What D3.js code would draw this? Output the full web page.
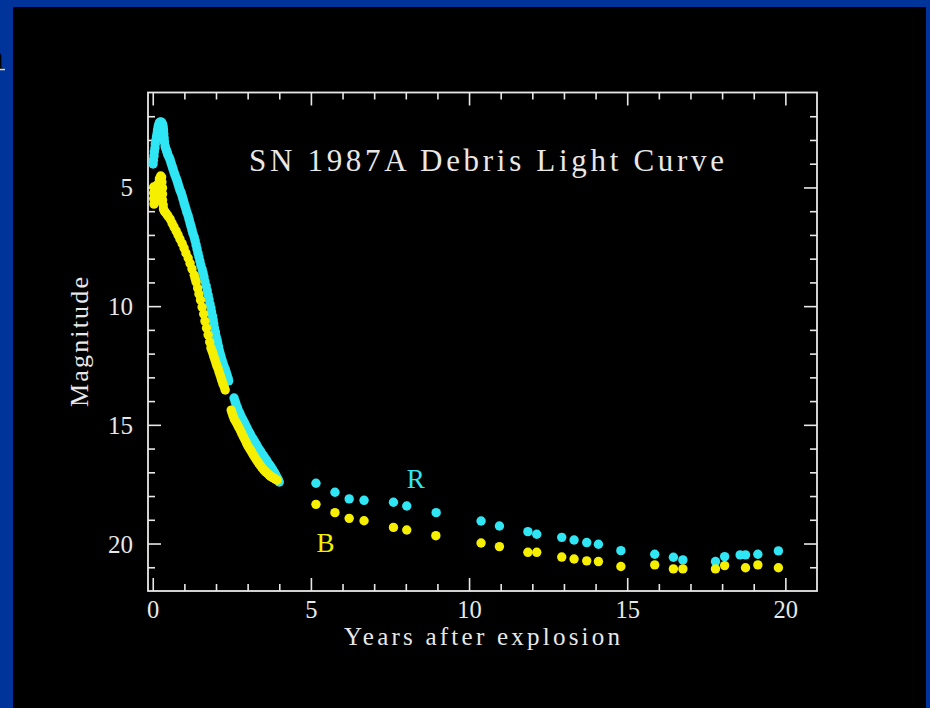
<!DOCTYPE html>
<html>
<head>
<meta charset="utf-8">
<script src="https://cdn.jsdelivr.net/npm/d3@7"></script>
<style>
  html, body { margin: 0; padding: 0; background: #00349b; }
  svg { display: block; }
</style>
</head>
<body>
<svg id="chart" width="930" height="708"></svg>
<script>
// SN 1987A light curve: R and B magnitudes vs years after explosion.

// Dense photometry during the first four years: [years, magnitude]
const rEarly = [
  [0.01,4.01],[0.02,3.85],[0.04,3.67],[0.05,3.50],[0.07,3.34],[0.08,3.17],[0.10,3.00],[0.12,2.85],
  [0.14,2.71],[0.15,2.58],[0.17,2.45],[0.19,2.36],[0.21,2.28],[0.23,2.25],[0.26,2.24],[0.28,2.27],
  [0.31,2.33],[0.33,2.45],[0.34,2.58],[0.35,2.75],[0.36,2.92],[0.37,3.08],[0.39,3.25],[0.41,3.36],
  [0.44,3.46],[0.46,3.55],[0.48,3.63],[0.52,3.74],[0.55,3.84],[0.58,3.97],[0.61,4.10],[0.64,4.22],
  [0.67,4.35],[0.70,4.47],[0.74,4.60],[0.77,4.72],[0.80,4.85],[0.83,4.98],[0.86,5.11],[0.90,5.23],
  [0.93,5.36],[0.96,5.50],[0.99,5.65],[1.02,5.78],[1.05,5.91],[1.08,6.05],[1.12,6.20],[1.15,6.35],
  [1.18,6.50],[1.21,6.64],[1.24,6.79],[1.27,6.94],[1.31,7.09],[1.34,7.25],[1.37,7.42],[1.40,7.59],
  [1.43,7.76],[1.46,7.93],[1.49,8.10],[1.52,8.27],[1.56,8.44],[1.59,8.60],[1.62,8.77],[1.65,8.96],
  [1.69,9.15],[1.72,9.34],[1.75,9.53],[1.78,9.72],[1.81,9.91],[1.84,10.08],[1.86,10.25],[1.89,10.42],
  [1.91,10.58],[1.93,10.75],[1.95,10.92],[1.98,11.09],[2.00,11.26],[2.03,11.41],[2.05,11.55],[2.08,11.70],
  [2.10,11.85],[2.13,12.00],[2.16,12.14],[2.19,12.27],[2.22,12.40],[2.25,12.52],[2.29,12.65],[2.32,12.78],
  [2.35,12.90],[2.38,13.03],[2.40,13.15],[2.57,13.87],[2.60,14.00],[2.63,14.12],[2.67,14.25],[2.70,14.37],
  [2.75,14.50],[2.79,14.63],[2.84,14.76],[2.89,14.88],[2.93,15.00],[2.98,15.13],[3.03,15.26],[3.08,15.38],
  [3.12,15.49],[3.17,15.59],[3.22,15.70],[3.27,15.81],[3.31,15.92],[3.36,16.02],[3.41,16.12],[3.46,16.23],
  [3.50,16.31],[3.55,16.40],[3.60,16.50],[3.65,16.61],[3.70,16.70],[3.74,16.78],[3.79,16.88],[3.84,16.99],
  [3.87,17.07],[3.90,17.15],[3.94,17.24],[3.97,17.32],[4.00,17.41]
];

const bEarly = [
  [0.03,4.98],[0.03,5.23],[0.03,5.48],[0.04,5.70],[0.07,5.19],[0.09,5.57],[0.12,5.36],[0.14,4.90],
  [0.14,5.44],[0.15,5.11],[0.18,4.85],[0.21,4.64],[0.23,5.11],[0.23,5.53],[0.25,4.52],[0.28,4.56],
  [0.29,4.77],[0.31,5.02],[0.31,5.28],[0.31,5.53],[0.33,5.74],[0.34,5.91],[0.37,6.00],[0.40,6.05],
  [0.44,6.12],[0.48,6.20],[0.55,6.33],[0.61,6.50],[0.67,6.66],[0.74,6.83],[0.80,7.00],[0.86,7.17],
  [0.93,7.36],[0.99,7.55],[1.05,7.76],[1.12,7.97],[1.18,8.20],[1.24,8.43],[1.31,8.69],[1.34,8.84],
  [1.37,8.98],[1.42,9.24],[1.46,9.49],[1.51,9.74],[1.56,10.04],[1.61,10.33],[1.65,10.63],[1.70,10.92],
  [1.75,11.21],[1.80,11.51],[1.84,11.76],[1.88,11.90],[1.91,12.02],[1.94,12.15],[1.97,12.27],[2.00,12.40],
  [2.03,12.52],[2.07,12.65],[2.10,12.78],[2.13,12.90],[2.16,13.03],[2.19,13.15],[2.22,13.28],[2.26,13.40],
  [2.29,13.53],[2.48,14.38],[2.51,14.50],[2.54,14.63],[2.58,14.76],[2.63,14.88],[2.68,15.00],[2.73,15.13],
  [2.78,15.26],[2.82,15.38],[2.87,15.51],[2.92,15.64],[2.96,15.76],[3.01,15.89],[3.06,16.00],[3.11,16.10],
  [3.15,16.20],[3.20,16.31],[3.25,16.42],[3.30,16.52],[3.35,16.61],[3.39,16.69],[3.44,16.78],[3.49,16.86],
  [3.53,16.93],[3.58,16.99],[3.63,17.05],[3.68,17.11],[3.72,17.16],[3.77,17.20],[3.82,17.24],[3.87,17.28],
  [3.93,17.33]
];

// Later epochs (HST era)
const rLateYears = [5.16,5.76,6.21,6.68,7.61,8.03,8.96,10.38,10.96,11.86,12.14,12.93,13.32,13.72,14.09,
                    14.80,15.87,16.46,16.76,17.79,18.08,18.57,18.74,19.13,19.78];
const rLateMag   = [17.46,17.84,18.12,18.18,18.26,18.42,18.70,19.05,19.26,19.50,19.61,19.74,19.85,19.96,20.03,
                    20.30,20.45,20.58,20.69,20.76,20.55,20.48,20.48,20.45,20.31];
const bLateYears = [5.16,5.76,6.21,6.68,7.61,8.03,8.95,10.38,10.96,11.86,12.14,12.93,13.32,13.72,14.09,
                    14.80,15.87,16.46,16.76,17.79,18.08,18.74,19.13,19.78];
const bLateMag   = [18.35,18.70,18.94,19.04,19.32,19.43,19.67,19.98,20.13,20.37,20.37,20.57,20.65,20.73,20.76,
                    20.97,20.90,21.07,21.07,21.07,20.93,21.02,20.90,21.02];

// Axis ticks
const xMajorTicks = [0, 5, 10, 15, 20];
const xMinorTicks = [1,2,3,4,6,7,8,9,11,12,13,14,16,17,18,19];
const yMajorTicks = [5, 10, 15, 20];
const yMinorTicks = [2,3,4,6,7,8,9,11,12,13,14,16,17,18,19,21];

// Band labels: [text, years, magnitude at baseline]
const bandLabels = [["R", 8.03, 17.67], ["B", 5.18, 20.34]];

const titleText = "SN 1987A Debris Light Curve";
const xTitle = "Years after explosion";
const yTitle = "Magnitude";

const COLORS = { R: "#30e6f4", B: "#f6f000" };
const INK = "#e8e8e8";
const FONT = "'Liberation Serif', 'DejaVu Serif', serif";

const W = 930, H = 708;
const svg = d3.select("#chart");

// slide backdrop: blue border around a black panel
svg.append("rect").attr("width", W).attr("height", H).attr("fill", "#00349b");
svg.append("rect").attr("x", 13).attr("y", 7).attr("width", 913).attr("height", H).attr("fill", "#000");

// heading glyph trimmed by the left edge of the slide
svg.append("text").attr("x", 4).attr("y", 69).attr("text-anchor", "end")
  .attr("font-family", FONT).attr("font-size", 36).attr("fill", "#000").text("n");
svg.append("line").attr("x1", 0).attr("x2", 5).attr("y1", 69.5).attr("y2", 69.5)
  .attr("stroke", "#dcdcdc").attr("stroke-width", 1.5);

const plot = { left: 148, right: 817, top: 92.5, bottom: 591 };
const x = d3.scaleLinear().domain([-0.15, 21]).range([plot.left, plot.right]);
const y = d3.scaleLinear().domain([1, 22]).range([plot.top, plot.bottom]);

const g = svg.append("g");

// ticks on all four sides, pointing inward
function tickAxis(axisFn, values, size, transform) {
  const a = g.append("g").attr("transform", transform)
    .call(axisFn.tickValues(values).tickSize(-size).tickFormat(""));
  a.select(".domain").remove();
  a.selectAll("line").attr("stroke", INK).attr("stroke-width", 1.6);
  a.selectAll("text").remove();
  return a;
}
const W_ = plot.right - plot.left, H_ = plot.bottom - plot.top;
tickAxis(d3.axisBottom(x), xMinorTicks, 7, `translate(0,${plot.bottom})`);
tickAxis(d3.axisBottom(x), xMajorTicks, 13, `translate(0,${plot.bottom})`);
tickAxis(d3.axisTop(x), xMinorTicks, 7, `translate(0,${plot.top})`);
tickAxis(d3.axisTop(x), xMajorTicks, 13, `translate(0,${plot.top})`);
tickAxis(d3.axisLeft(y), yMinorTicks, 7, `translate(${plot.left},0)`);
tickAxis(d3.axisLeft(y), yMajorTicks, 13, `translate(${plot.left},0)`);
tickAxis(d3.axisRight(y), yMinorTicks, 7, `translate(${plot.right},0)`);
tickAxis(d3.axisRight(y), yMajorTicks, 13, `translate(${plot.right},0)`);

// frame
g.append("rect")
  .attr("x", plot.left).attr("y", plot.top).attr("width", W_).attr("height", H_)
  .attr("fill", "none").attr("stroke", INK).attr("stroke-width", 1.8);

// tick labels
const xl = g.append("g").attr("transform", `translate(0,${plot.bottom})`)
  .call(d3.axisBottom(x).tickValues(xMajorTicks).tickSize(0).tickFormat(d3.format("d")));
xl.select(".domain").remove();
xl.selectAll("text").attr("y", 27).attr("dy", null)
  .attr("font-family", FONT).attr("font-size", 24.5).attr("fill", INK);

const yl = g.append("g").attr("transform", `translate(${plot.left},0)`)
  .call(d3.axisLeft(y).tickValues(yMajorTicks).tickSize(0).tickFormat(d3.format("d")));
yl.select(".domain").remove();
yl.selectAll("text").attr("x", -15).attr("dy", "0.34em")
  .attr("font-family", FONT).attr("font-size", 25).attr("fill", INK);

// axis titles
g.append("text").attr("x", 482).attr("y", 645).attr("text-anchor", "middle")
  .attr("font-family", FONT).attr("font-size", 25).attr("fill", INK)
  .attr("textLength", 276).attr("lengthAdjust", "spacing").text(xTitle);

g.append("text").attr("transform", "translate(87.5,342) rotate(-90)")
  .attr("text-anchor", "middle")
  .attr("font-family", FONT).attr("font-size", 26).attr("fill", INK)
  .attr("textLength", 130).attr("lengthAdjust", "spacing").text(yTitle);

// chart title inside the frame
g.append("text").attr("x", 249).attr("y", 170.5)
  .attr("font-family", FONT).attr("font-size", 31).attr("fill", INK)
  .attr("textLength", 475).attr("lengthAdjust", "spacing").text(titleText);

// data points
const R = rEarly.concat(rLateYears.map((t, i) => [t, rLateMag[i]]));
const B = bEarly.concat(bLateYears.map((t, i) => [t, bLateMag[i]]));
const dotR = 4.7;

g.append("g").selectAll("circle").data(R).join("circle")
  .attr("cx", d => x(d[0])).attr("cy", d => y(d[1])).attr("r", dotR)
  .attr("fill", COLORS.R);

g.append("g").selectAll("circle").data(B).join("circle")
  .attr("cx", d => x(d[0])).attr("cy", d => y(d[1])).attr("r", dotR)
  .attr("fill", COLORS.B);

// band labels
g.append("g").selectAll("text").data(bandLabels).join("text")
  .attr("x", d => x(d[1])).attr("y", d => y(d[2]))
  .attr("font-family", FONT).attr("font-size", 27)
  .attr("fill", d => COLORS[d[0]]).text(d => d[0]);
</script>
</body>
</html>
